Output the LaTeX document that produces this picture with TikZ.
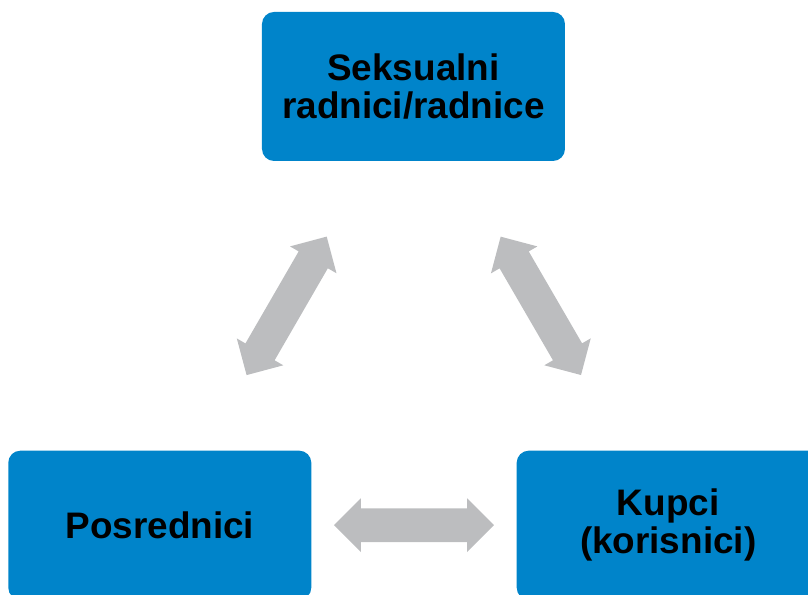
\documentclass[tikz,border=0pt]{standalone}
\usepackage{fontspec}
\setmainfont{Liberation Sans}
\usetikzlibrary{shapes.arrows, positioning}
\definecolor{boxblue}{RGB}{0,132,202}
\definecolor{arrowgray}{RGB}{188,189,191}

\begin{document}
\begin{tikzpicture}[
    node distance = 5.78cm and -1cm,
    box/.style = {rectangle, rounded corners=0.24cm, fill=boxblue, text width=5.8cm, align=center, minimum width=6.06cm, minimum height=2.98cm, inner sep=0pt, font=\bfseries\fontsize{21}{21.5}\selectfont},
    twoway/.style = {double arrow, fill=arrowgray, minimum height=3.2cm, minimum width=1.06cm, inner xsep=0pt, inner ysep=0.33cm, double arrow head extend=0.2cm}
]

% Frame of the picture
\useasboundingbox (-8.27,1.73) rectangle (7.89,-10.17);
\clip (-8.27,1.73) rectangle (7.89,-10.17);

% Define nodes
\node[box] (sex) at (0,0) {Seksualni\\radnici/radnice};
\node[box, below left=5.78cm and -1cm of sex] (pos) {Posrednici};
\node[box, below right=5.78cm and -0.98cm of sex] (kup) {Kupci\\(korisnici)};

% Draw arrows
\path (sex.center) -- node[twoway, sloped] (a1) {} (pos.center);
\path (sex.center) -- node[twoway, sloped] (a2) {} (kup.center);
\path (pos.center) -- node[twoway, sloped] (a3) {} (kup.center);

\end{tikzpicture}
\end{document}
